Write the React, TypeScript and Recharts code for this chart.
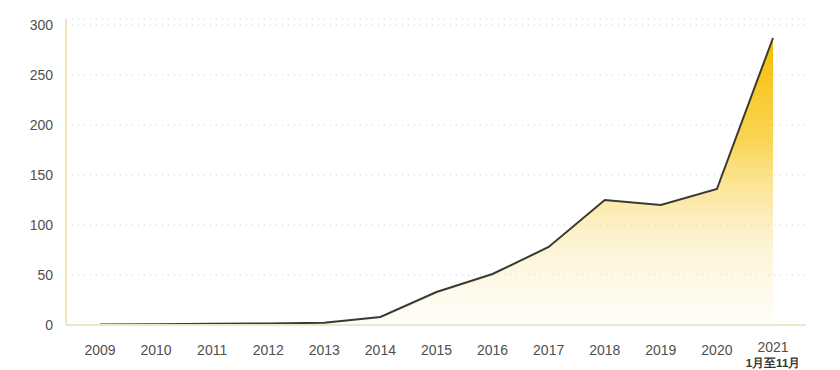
import { Area, AreaChart, CartesianGrid, XAxis, YAxis } from "recharts";

const years = ["2009", "2010", "2011", "2012", "2013", "2014", "2015", "2016", "2017", "2018", "2019", "2020", "2021"];
const values = [0.5, 0.8, 1.2, 1.6, 2.2, 8, 33, 51, 78, 125, 120, 136, 287];
const yTicks = [0, 50, 100, 150, 200, 250, 300];
const lastNote = "1月至11月";

const data = years.map((year, i) => ({ year, value: values[i] }));

const font = "'Liberation Sans', Arial, sans-serif";

function YearTick({ x, y, payload }: any) {
  const last = payload.value === years[years.length - 1];
  return (
    <g transform={`translate(${x},${y})`}>
      <text x={0} y={0} dy={last ? 19 : 22} textAnchor="middle" fill="#4f4f4f" fontSize={14} fontFamily={font}>
        {payload.value}
      </text>
      {last && (
        <text x={0} y={0} dy={34} textAnchor="middle" fill="#333" fontSize={11.5} fontWeight="bold" fontFamily={font}>
          {lastNote}
        </text>
      )}
    </g>
  );
}

export default function App() {
  return (
    <div style={{ position: "absolute", left: 0, top: 0, background: "#fff" }}>
      <AreaChart width={840} height={370} data={data} margin={{ top: 19, right: 34, bottom: 0, left: 0 }}>
        <defs>
          <linearGradient id="goldFill" x1="0" y1="0" x2="0" y2="1">
            <stop offset="0%" stopColor="#f5bd00" stopOpacity={1} />
            <stop offset="35%" stopColor="#f8cd33" stopOpacity={0.85} />
            <stop offset="70%" stopColor="#fbe395" stopOpacity={0.45} />
            <stop offset="100%" stopColor="#fdf5d6" stopOpacity={0.2} />
          </linearGradient>
        </defs>
        <CartesianGrid stroke="#c8c8c8" strokeDasharray="1 5" vertical={false} />
        <XAxis
          dataKey="year"
          padding={{ left: 34, right: 33 }}
          axisLine={{ stroke: "#e9ebc8", strokeWidth: 2 }}
          tickLine={false}
          tick={<YearTick />}
          height={45}
          interval={0}
        />
        <YAxis
          domain={[0, 306]}
          ticks={yTicks}
          width={66}
          axisLine={{ stroke: "#f3e6b0", strokeWidth: 2 }}
          tickLine={false}
          tickMargin={7}
          tick={{ fill: "#4f4f4f", fontSize: 14, fontFamily: font }}
        />
        <Area
          type="linear"
          dataKey="value"
          stroke="#3a3a32"
          strokeWidth={2}
          fill="url(#goldFill)"
          fillOpacity={1}
          isAnimationActive={false}
          dot={false}
          activeDot={false}
        />
      </AreaChart>
    </div>
  );
}
